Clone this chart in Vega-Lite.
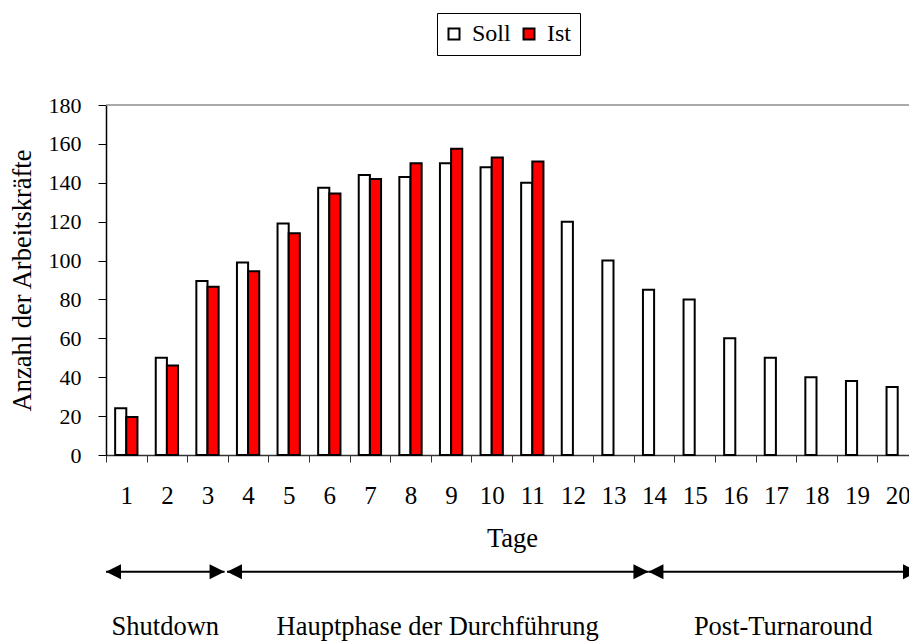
{
  "$schema": "https://vega.github.io/schema/vega-lite/v6.json",
  "width": 803,
  "height": 350,
  "autosize": {"type": "none"},
  "padding": {"left": 106, "top": 105, "right": 0, "bottom": 186},
  "background": "white",
  "config": {
    "font": "Liberation Serif",
    "view": {"stroke": null},
    "axis": {
      "labelFont": "Liberation Serif",
      "titleFont": "Liberation Serif",
      "labelColor": "black",
      "titleColor": "black",
      "titleFontWeight": "normal",
      "labelFontSize": 23,
      "titleFontSize": 23,
      "grid": false
    },
    "axisY": {
      "tickCount": 9,
      "labelOverlap": false,
      "tickSize": 8,
      "labelFontSize": 22,
      "labelPadding": 17,
      "titleFontSize": 26.5,
      "titlePadding": 12,
      "domainColor": "black",
      "tickColor": "black",
      "domainWidth": 1.5
    },
    "text": {"font": "Liberation Serif"}
  },
  "datasets": {
    "werte": [
      {"Tag": 1, "Serie": "Soll", "Wert": 24}, {"Tag": 1, "Serie": "Ist", "Wert": 19.5},
      {"Tag": 2, "Serie": "Soll", "Wert": 50}, {"Tag": 2, "Serie": "Ist", "Wert": 46},
      {"Tag": 3, "Serie": "Soll", "Wert": 89.5}, {"Tag": 3, "Serie": "Ist", "Wert": 86.5},
      {"Tag": 4, "Serie": "Soll", "Wert": 99}, {"Tag": 4, "Serie": "Ist", "Wert": 94.5},
      {"Tag": 5, "Serie": "Soll", "Wert": 119}, {"Tag": 5, "Serie": "Ist", "Wert": 114},
      {"Tag": 6, "Serie": "Soll", "Wert": 137.5}, {"Tag": 6, "Serie": "Ist", "Wert": 134.5},
      {"Tag": 7, "Serie": "Soll", "Wert": 144}, {"Tag": 7, "Serie": "Ist", "Wert": 142},
      {"Tag": 8, "Serie": "Soll", "Wert": 143}, {"Tag": 8, "Serie": "Ist", "Wert": 150},
      {"Tag": 9, "Serie": "Soll", "Wert": 150}, {"Tag": 9, "Serie": "Ist", "Wert": 157.5},
      {"Tag": 10, "Serie": "Soll", "Wert": 148}, {"Tag": 10, "Serie": "Ist", "Wert": 153},
      {"Tag": 11, "Serie": "Soll", "Wert": 140}, {"Tag": 11, "Serie": "Ist", "Wert": 151},
      {"Tag": 12, "Serie": "Soll", "Wert": 120},
      {"Tag": 13, "Serie": "Soll", "Wert": 100},
      {"Tag": 14, "Serie": "Soll", "Wert": 85},
      {"Tag": 15, "Serie": "Soll", "Wert": 80},
      {"Tag": 16, "Serie": "Soll", "Wert": 60},
      {"Tag": 17, "Serie": "Soll", "Wert": 50},
      {"Tag": 18, "Serie": "Soll", "Wert": 40},
      {"Tag": 19, "Serie": "Soll", "Wert": 38},
      {"Tag": 20, "Serie": "Soll", "Wert": 35}
    ],
    "oben": [{"Wert": 180}],
    "pfeile": [
      {"von": 0, "bis": 2.92},
      {"von": 2.98, "bis": 13.36},
      {"von": 13.36, "bis": 20}
    ],
    "spitzen": [
      {"pos": 0, "richtung": "links"},
      {"pos": 2.92, "richtung": "rechts"},
      {"pos": 2.98, "richtung": "links"},
      {"pos": 13.36, "richtung": "rechts"},
      {"pos": 13.36, "richtung": "links"},
      {"pos": 20, "richtung": "rechts"}
    ],
    "phasen": [
      {"mitte": 1.46, "name": "Shutdown"},
      {"mitte": 8.17, "name": "Hauptphase der Durchführung"},
      {"mitte": 16.68, "name": "Post-Turnaround"}
    ]
  },
  "resolve": {"scale": {"x": "independent"}, "axis": {"x": "independent"}},
  "layer": [
    {
      "data": {"name": "werte"},
      "mark": {"type": "bar", "stroke": "black", "strokeWidth": 2},
      "encoding": {
        "x": {
          "field": "Tag",
          "type": "ordinal",
          "scale": {"paddingInner": 0, "paddingOuter": 0, "range": [0, 812]},
          "axis": {
            "title": "Tage",
            "labelAngle": 0,
            "tickBand": "extent",
            "tickSize": 7,
            "labelFontSize": 25,
            "labelPadding": 21,
            "titleFontSize": 26.5,
            "titlePadding": 17,
            "domainColor": "#333333",
            "tickColor": "#333333",
            "domainWidth": 1.5,
            "tickWidth": 1
          }
        },
        "xOffset": {
          "field": "Serie",
          "type": "nominal",
          "scale": {"domain": ["Soll", "Ist"], "paddingInner": 0, "paddingOuter": 0.82}
        },
        "y": {
          "field": "Wert",
          "type": "quantitative",
          "scale": {"domain": [0, 180], "nice": false},
          "title": "Anzahl der Arbeitskräfte"
        },
        "color": {
          "field": "Serie",
          "type": "nominal",
          "scale": {"domain": ["Soll", "Ist"], "range": ["#ffffff", "#ff0000"]},
          "legend": {
            "title": null,
            "orient": "none",
            "legendX": 331,
            "legendY": -92,
            "direction": "horizontal",
            "symbolType": "square",
            "symbolSize": 121,
            "symbolStrokeColor": "black",
            "symbolStrokeWidth": 2,
            "labelFont": "Liberation Serif",
            "labelFontSize": 24,
            "labelColor": "black",
            "strokeColor": "black",
            "fillColor": "white",
            "padding": 9,
            "symbolOffset": -4,
            "columnPadding": 8,
            "labelOffset": 6
          }
        }
      }
    },
    {
      "data": {"name": "oben"},
      "mark": {"type": "rule", "color": "#8c8c8c", "strokeWidth": 1.5},
      "encoding": {"y": {"field": "Wert", "type": "quantitative", "title": "Anzahl der Arbeitskräfte"}}
    },
    {
      "data": {"name": "pfeile"},
      "mark": {"type": "rule", "color": "black", "strokeWidth": 2},
      "encoding": {
        "x": {"field": "von", "type": "quantitative", "scale": {"domain": [0, 20], "range": [0, 812], "zero": false, "nice": false}, "axis": null},
        "x2": {"field": "bis"},
        "y": {"datum": -60, "type": "quantitative", "title": "Anzahl der Arbeitskräfte"}
      }
    },
    {
      "data": {"name": "spitzen"},
      "mark": {"type": "point", "filled": true, "color": "black", "opacity": 1, "size": 225},
      "encoding": {
        "x": {"field": "pos", "type": "quantitative", "scale": {"domain": [0, 20], "range": [0, 812], "zero": false, "nice": false}, "axis": null},
        "y": {"datum": -60, "type": "quantitative", "title": "Anzahl der Arbeitskräfte"},
        "shape": {
          "field": "richtung",
          "type": "nominal",
          "scale": {"domain": ["links", "rechts"], "range": ["M0,0L2,-1L2,1Z", "M0,0L-2,-1L-2,1Z"]},
          "legend": null
        }
      }
    },
    {
      "data": {"name": "phasen"},
      "mark": {"type": "text", "font": "Liberation Serif", "fontSize": 26.5, "color": "black", "align": "center", "baseline": "alphabetic"},
      "encoding": {
        "x": {"field": "mitte", "type": "quantitative", "scale": {"domain": [0, 20], "range": [0, 812], "zero": false, "nice": false}, "axis": null},
        "y": {"datum": -92.6, "type": "quantitative", "title": "Anzahl der Arbeitskräfte"},
        "text": {"field": "name"}
      }
    }
  ]
}
